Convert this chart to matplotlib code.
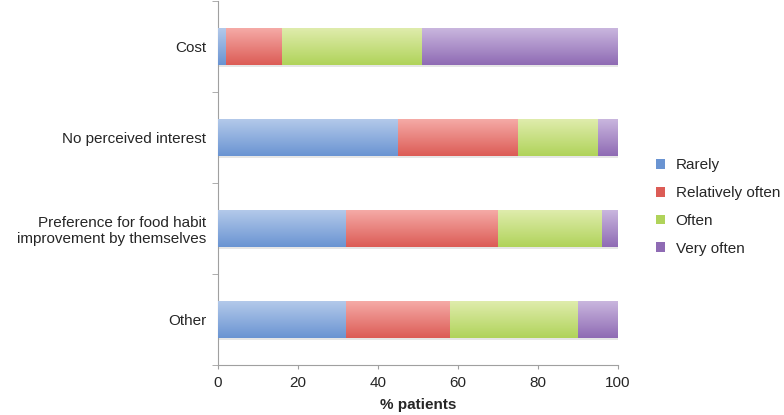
import matplotlib.pyplot as plt
import numpy as np
from matplotlib.colors import LinearSegmentedColormap
from matplotlib.patches import Patch

plt.rcParams["font.family"] = ["Liberation Sans", "DejaVu Sans"]

categories = [
    "Cost",
    "No perceived interest",
    "Preference for food habit\nimprovement by themselves",
    "Other",
]
series = ["Rarely", "Relatively often", "Often", "Very often"]
rarely = [2, 45, 32, 32]
relatively_often = [14, 30, 38, 26]
often = [35, 20, 26, 32]
very_often = [49, 5, 4, 10]

# (light top, dark bottom) for the gradient fill
shades = [
    ("#b3c9ea", "#6a94d2"),
    ("#f5aaa6", "#dc5c56"),
    ("#dfecac", "#b0d35a"),
    ("#c9b6de", "#8f6bb4"),
]

fig = plt.figure(figsize=(7.84, 4.15), dpi=100)
ax = fig.add_axes([218 / 784, 50 / 415, 400 / 784, 364 / 415])

ypos = np.arange(len(categories))[::-1]
left = np.zeros(len(categories))
grad = np.linspace(0, 1, 64).reshape(-1, 1)
for values, (light, dark) in zip([rarely, relatively_often, often, very_often], shades):
    bars = ax.barh(ypos, values, left=left, height=0.4, color=dark, zorder=2)
    cmap = LinearSegmentedColormap.from_list("g", [dark, light])
    for b in bars:
        x0, y0, w, h = b.get_x(), b.get_y(), b.get_width(), b.get_height()
        if w <= 0:
            continue
        ax.imshow(grad, cmap=cmap, origin="lower", aspect="auto",
                  extent=(x0, x0 + w, y0, y0 + h), zorder=3)
        # faint shadow under the bar
        ax.fill_between([x0, x0 + w], y0 - 0.03, y0, color="#e6e6e6", lw=0, zorder=1)
    left += np.array(values)

ax.set_xlim(0, 100)
ax.set_ylim(-0.5, len(categories) - 0.5)
ax.set_xticks(range(0, 101, 20))
ax.set_yticks(ypos)
ax.set_yticklabels(categories, fontsize=11, color="#262626")
ax.set_yticks(np.arange(-0.5, len(categories), 1.0), minor=True)
ax.tick_params(axis="y", which="major", length=0, pad=8.5)
ax.tick_params(axis="y", which="minor", length=4, color="#a0a0a0", direction="out")
ax.tick_params(axis="x", length=3, color="#a0a0a0", labelsize=11, labelcolor="#262626", pad=5)
ax.set_xlabel("% patients", fontsize=11, fontweight="bold", color="#262626", labelpad=6)

for s in ["top", "right"]:
    ax.spines[s].set_visible(False)
for s in ["left", "bottom"]:
    ax.spines[s].set_color("#a0a0a0")
    ax.spines[s].set_linewidth(0.8)

handles = [Patch(facecolor=dark, edgecolor="none") for _, dark in shades]
fig.legend(handles, series, loc="center left", bbox_to_anchor=(648 / 784, 1 - 207 / 415),
           frameon=False, fontsize=11, handlelength=0.6, handleheight=0.6,
           handletextpad=0.7, labelspacing=0.9, borderpad=0, labelcolor="#262626")

fig.savefig("out.png", dpi=100)
